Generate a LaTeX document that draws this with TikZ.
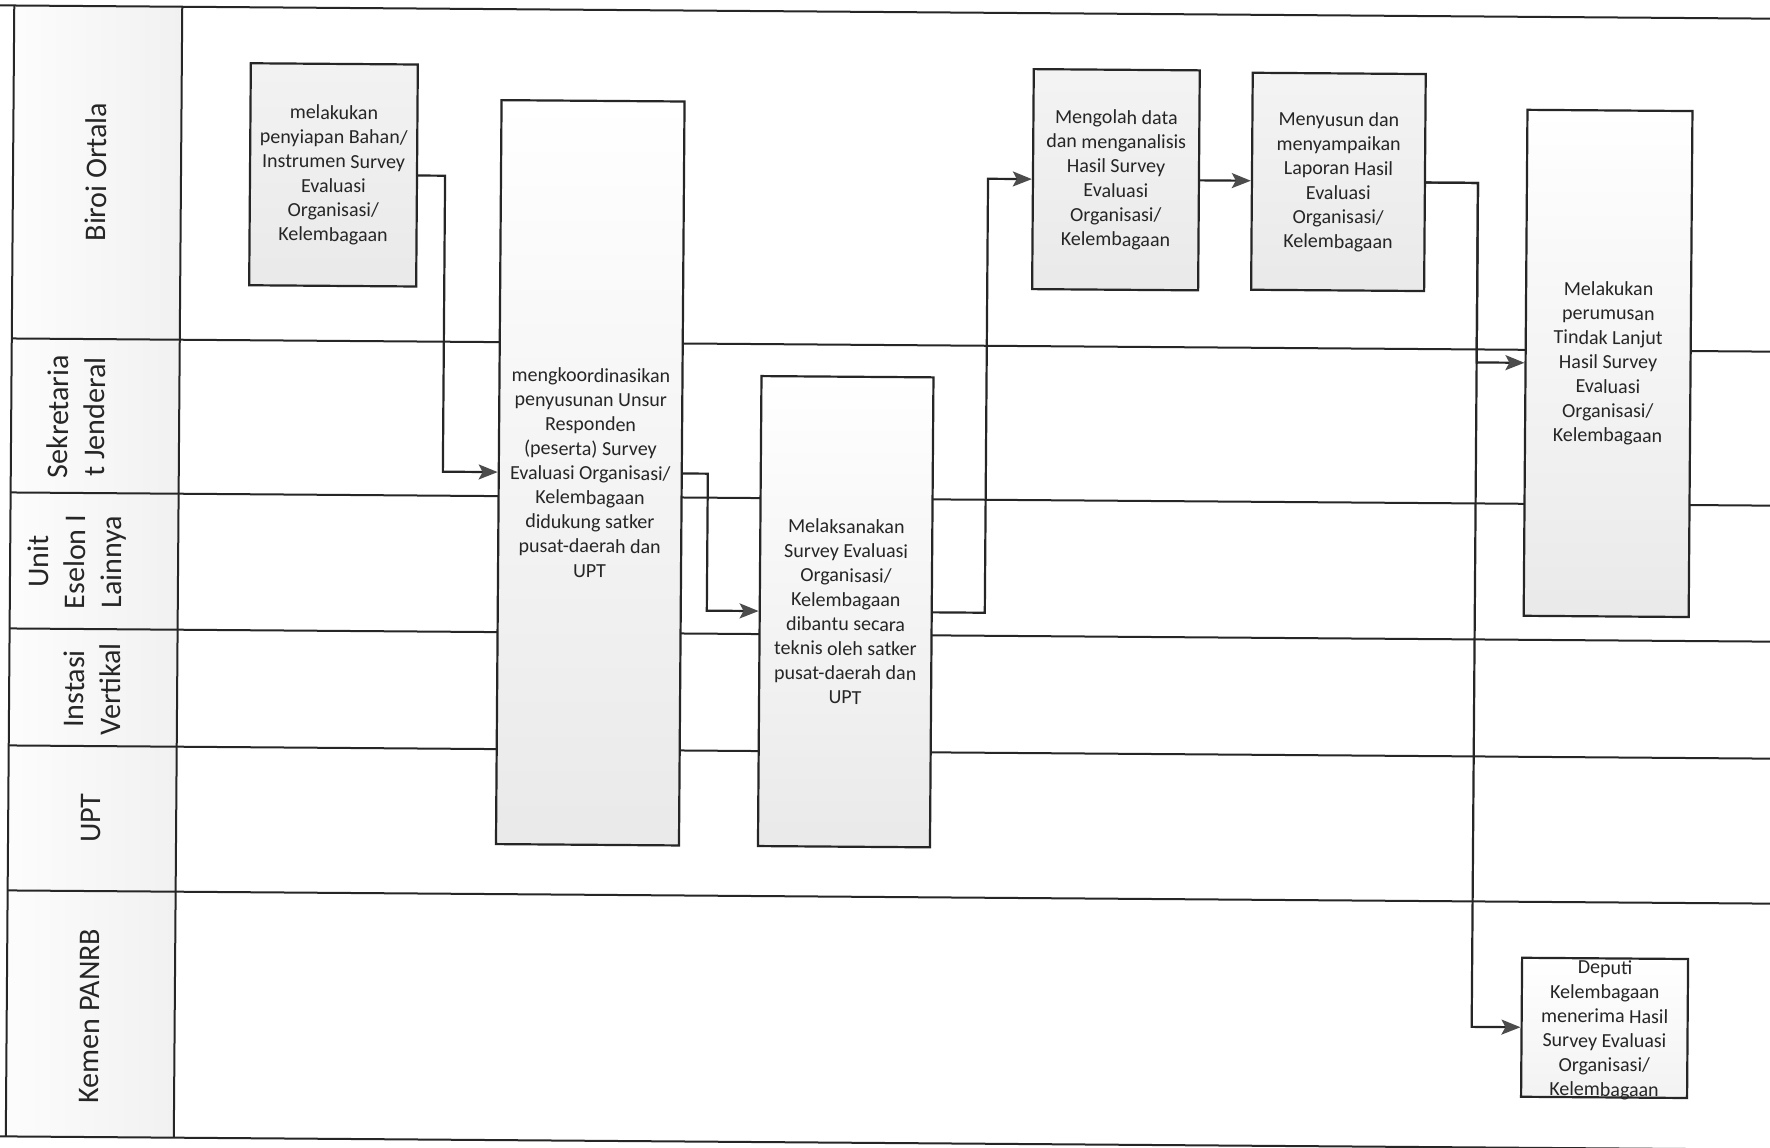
\documentclass[tikz,border=0pt]{standalone}
\usepackage{fontspec}
\setmainfont{Carlito}
\usetikzlibrary{arrows.meta}
\begin{document}
\begin{tikzpicture}[x=1pt,y=-1pt,
  lane/.style={draw=black!85, line width=2pt},
  cell/.style={left color=gray!2, right color=gray!11, draw=none},
  lanelabel/.style={rotate=90, align=center, font=\fontsize{30}{36.6}\selectfont, text=black!85, inner sep=0pt},
  box/.style={draw=black!85, line width=2.2pt, top color=gray!4, bottom color=gray!17, align=center, inner sep=2pt, font=\fontsize{20}{24.4}\selectfont, text=black!85},
  boxtext/.style={align=center, inner sep=0pt, font=\fontsize{20}{24.4}\selectfont, text=black!85},
  conn/.style={draw=black!85, line width=2.2pt, -{Stealth[length=19pt,width=15pt,inset=4pt,color=black!70]}}
]
\useasboundingbox (0,0) rectangle (1770,1148);
\clip (0,0) rectangle (1770,1148);
\fill[white] (0,0) rectangle (1770,1148);
\begin{scope}[rotate around={-0.43:(885,574)}, transform shape]
  % label column cells
  \path[cell] (10,12) rectangle (178,345);
  \path[cell] (10,345) rectangle (178,499);
  \path[cell] (10,499) rectangle (178,635);
  \path[cell] (10,635) rectangle (178,752);
  \path[cell] (10,752) rectangle (178,897);
  \path[cell] (10,897) rectangle (178,1143);
  % lane lines
  \draw[lane] (-20,12) -- (1810,12);
  \draw[lane] (10,345) -- (1810,345);
  \draw[lane] (10,499) -- (1810,499);
  \draw[lane] (10,635) -- (1810,635);
  \draw[lane] (10,752) -- (1810,752);
  \draw[lane] (10,897) -- (1810,897);
  \draw[lane] (-20,1143) -- (1810,1143);
  \draw[lane] (10,12) -- (10,1143);
  \draw[lane] (178,12) -- (178,1143);
  % lane labels
  \node[lanelabel] (l1) at (93,178) {Biroi Ortala};
  \node[lanelabel] (l2) at (75,423) {Sekretaria\\t Jenderal};
  \node[lanelabel] (l3) at (77,568) {Unit\\Eselon I\\Lainnya};
  \node[lanelabel] (l4) at (93,695) {Instasi\\Vertikal};
  \node[lanelabel] (l5) at (93,824) {UPT};
  \node[lanelabel] (l6) at (93,1022) {Kemen PANRB};
  % boxes
  \node[box, minimum width=167, minimum height=222, top color=gray!10] (A) at (330.5,179)
    {melakukan\\penyiapan Bahan/\\Instrumen Survey\\Evaluasi\\Organisasi/\\Kelembagaan};
  \node[box, minimum width=183, minimum height=744, top color=white] (B) at (589.5,475)
    {mengkoordinasikan\\penyusunan Unsur\\Responden\\(peserta) Survey\\Evaluasi Organisasi/\\Kelembagaan\\didukung satker\\pusat-daerah dan\\UPT};
  \node[box, minimum width=172, minimum height=470, top color=white] (C) at (846,612)
    {Melaksanakan\\Survey Evaluasi\\Organisasi/\\Kelembagaan\\dibantu secara\\teknis oleh satker\\pusat-daerah dan\\UPT};
  \node[box, minimum width=166, minimum height=220, top color=gray!9] (D) at (1113,178)
    {Mengolah data\\dan menganalisis\\Hasil Survey\\Evaluasi\\Organisasi/\\Kelembagaan};
  \node[box, minimum width=173, minimum height=217, top color=gray!9] (E) at (1335.5,178.5)
    {Menyusun dan\\menyampaikan\\Laporan Hasil\\Evaluasi\\Organisasi/\\Kelembagaan};
  \node[box, minimum width=165, minimum height=506, top color=white] (F) at (1606.5,358)
    {Melakukan\\perumusan\\Tindak Lanjut\\Hasil Survey\\Evaluasi\\Organisasi/\\Kelembagaan};
  \node[box, minimum width=166, minimum height=139, top color=white, bottom color=gray!10,
    label={[boxtext, yshift=-2pt]center:{Deputi\\Kelembagaan\\menerima Hasil\\Survey Evaluasi\\Organisasi/\\Kelembagaan}}] (G) at (1608,1022.5) {};
  % connectors
  \draw[conn] (A.east) -- ++(27,0) |- (B.west);
  \draw[conn] (B.east) -- ++(25,0) |- (C.west);
  \draw[conn] (C.east) -- ++(52,0) |- (D.west);
  \draw[conn] (D.east) -- (D.east -| E.west);
  \draw[conn] (E.east) -- ++(52,0) |- (F.west);
  \draw[conn] (E.east) -- ++(52,0) |- (G.west);
\end{scope}
\end{tikzpicture}
\end{document}
